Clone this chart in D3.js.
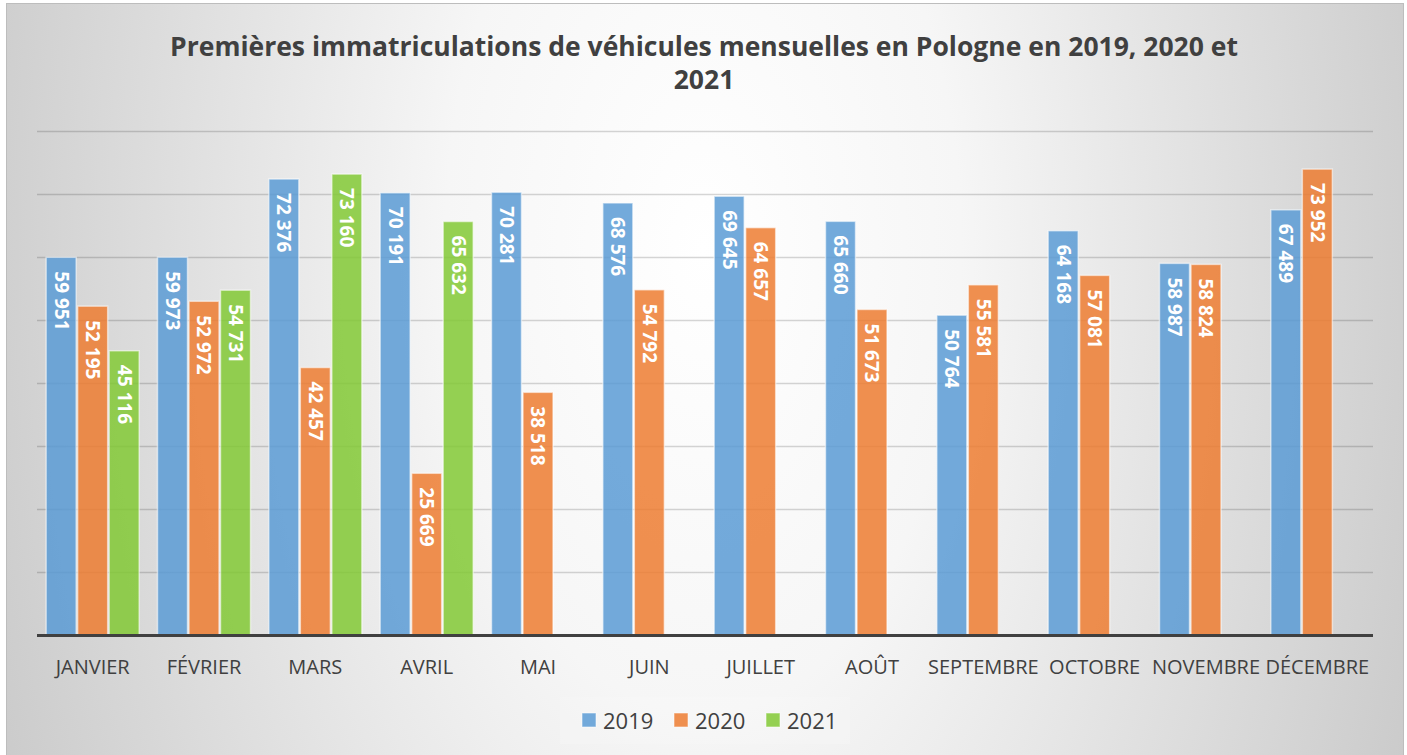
<!DOCTYPE html>
<html>
<head>
<meta charset="utf-8">
<script src="https://cdn.jsdelivr.net/npm/d3@7"></script>
<style>
  html, body { margin: 0; padding: 0; background: #ffffff; }
  svg { display: block; }
</style>
</head>
<body>
<svg id="chart" width="1407" height="755"></svg>
<script>
// ---- data ----
const titleLines = ["Premières immatriculations de véhicules mensuelles en Pologne en 2019, 2020 et", "2021"];
const months = ["JANVIER", "FÉVRIER", "MARS", "AVRIL", "MAI", "JUIN", "JUILLET", "AOÛT", "SEPTEMBRE", "OCTOBRE", "NOVEMBRE", "DÉCEMBRE"];
const seriesNames = ["2019", "2020", "2021"];
const values2019 = [59951, 59973, 72376, 70191, 70281, 68576, 69645, 65660, 50764, 64168, 58987, 67489];
const values2020 = [52195, 52972, 42457, 25669, 38518, 54792, 64657, 51673, 55581, 57081, 58824, 73952];
const values2021 = [45116, 54731, 73160, 65632, null, null, null, null, null, null, null, null];
const yTicks = [0, 10000, 20000, 30000, 40000, 50000, 60000, 70000, 80000];
const seriesColors = ["#5b9bd5", "#ed7d31", "#82c935"];

const seriesValues = [values2019, values2020, values2021];
const fmt = v => d3.format(",")(v).replace(/,/g, " ");

const svg = d3.select("#chart");

// background
const defs = svg.append("defs");
const grad = defs.append("radialGradient")
  .attr("id", "bg")
  .attr("gradientUnits", "userSpaceOnUse")
  .attr("cx", 703).attr("cy", 250).attr("r", 860)
  .attr("fx", 703).attr("fy", 250)
  .attr("gradientTransform", "translate(703,250) scale(1,1.8) translate(-703,-250)");
grad.append("stop").attr("offset", "0").attr("stop-color", "#ffffff");
grad.append("stop").attr("offset", "0.3").attr("stop-color", "#f6f6f6");
grad.append("stop").attr("offset", "1").attr("stop-color", "#c2c2c2");

svg.append("rect")
  .attr("x", 6.5).attr("y", 3.5).attr("width", 1397).attr("height", 760)
  .attr("fill", "url(#bg)")
  .attr("stroke", "#bdbdbd").attr("stroke-width", 1);

// scales
const plot = { left: 37, right: 1373, top: 131, bottom: 635 };
const x0 = d3.scaleBand().domain(months).range([plot.left, plot.right]).padding(0);
const x1 = d3.scaleBand().domain(seriesNames).range([0, x0.bandwidth()]).paddingInner(0).paddingOuter(0.267);
const y = d3.scaleLinear().domain([0, 80000]).range([plot.bottom, plot.top]);

// gridlines
svg.append("g")
  .selectAll("line")
  .data(yTicks.filter(t => t > 0))
  .join("line")
  .attr("x1", plot.left).attr("x2", plot.right)
  .attr("y1", d => y(d) + 0.5).attr("y2", d => y(d) + 0.5)
  .attr("stroke", "rgba(0,0,0,0.16)")
  .attr("stroke-width", 1.5);

// bars
const barData = [];
months.forEach((m, i) => {
  seriesNames.forEach((s, j) => {
    const v = seriesValues[j][i];
    if (v != null) barData.push({ month: m, series: s, value: v, color: seriesColors[j] });
  });
});

svg.append("g")
  .selectAll("rect")
  .data(barData)
  .join("rect")
  .attr("x", d => x0(d.month) + x1(d.series) + 0.75)
  .attr("y", d => y(d.value))
  .attr("width", x1.bandwidth() - 1.5)
  .attr("height", d => y(0) - y(d.value))
  .attr("fill", d => d.color)
  .attr("fill-opacity", 0.85)
  .attr("stroke", "rgba(255,255,255,0.55)")
  .attr("stroke-width", 1.5);

// labels
svg.append("g")
  .selectAll("text")
  .data(barData)
  .join("text")
  .attr("transform", d => `translate(${x0(d.month) + x1(d.series) + x1.bandwidth() / 2},${y(d.value) + 14}) rotate(90)`)
  .attr("dy", "0.35em")
  .attr("text-anchor", "start")
  .attr("font-family", "'Open Sans', 'Noto Sans', sans-serif")
  .attr("font-weight", "bold")
  .attr("font-size", 19)
  .attr("fill", "#ffffff")
  .text(d => fmt(d.value));

// x axis
const xAxis = svg.append("g")
  .attr("transform", `translate(0,${plot.bottom})`)
  .call(d3.axisBottom(x0).tickSize(0).tickPadding(0));
xAxis.select(".domain").remove();
xAxis.selectAll("text")
  .attr("y", 39)
  .attr("dy", 0)
  .attr("font-family", "'Open Sans', 'Noto Sans', sans-serif")
  .attr("font-size", 20)
  .attr("fill", "#404040");
svg.append("line")
  .attr("x1", plot.left).attr("x2", plot.right)
  .attr("y1", plot.bottom + 0.5).attr("y2", plot.bottom + 0.5)
  .attr("stroke", "#404040").attr("stroke-width", 3);

// title
svg.append("text")
  .attr("x", 704).attr("text-anchor", "middle")
  .attr("font-family", "'Open Sans', 'Noto Sans', sans-serif")
  .attr("font-weight", "bold")
  .attr("font-size", 26.5)
  .attr("fill", "#404040")
  .selectAll("tspan")
  .data(titleLines)
  .join("tspan")
  .attr("x", 704)
  .attr("y", (d, i) => 56 + i * 33)
  .text(d => d);

// legend
const legend = svg.append("g");
legend.append("rect")
  .attr("x", 560).attr("y", 697).attr("width", 290).attr("height", 47)
  .attr("fill", "rgba(255,255,255,0.15)");
const legendX = [582, 674, 766];
const li = legend.selectAll("g.item")
  .data(seriesNames)
  .join("g")
  .attr("class", "item")
  .attr("transform", (d, i) => `translate(${legendX[i]},713)`);
li.append("rect")
  .attr("width", 14).attr("height", 14)
  .attr("fill", (d, i) => seriesColors[i])
  .attr("fill-opacity", 0.85)
  .attr("stroke", "rgba(255,255,255,0.55)");
li.append("text")
  .attr("x", 21).attr("y", 16)
  .attr("font-family", "'Open Sans', 'Noto Sans', sans-serif")
  .attr("font-size", 22)
  .attr("fill", "#404040")
  .text(d => d);
</script>
</body>
</html>
